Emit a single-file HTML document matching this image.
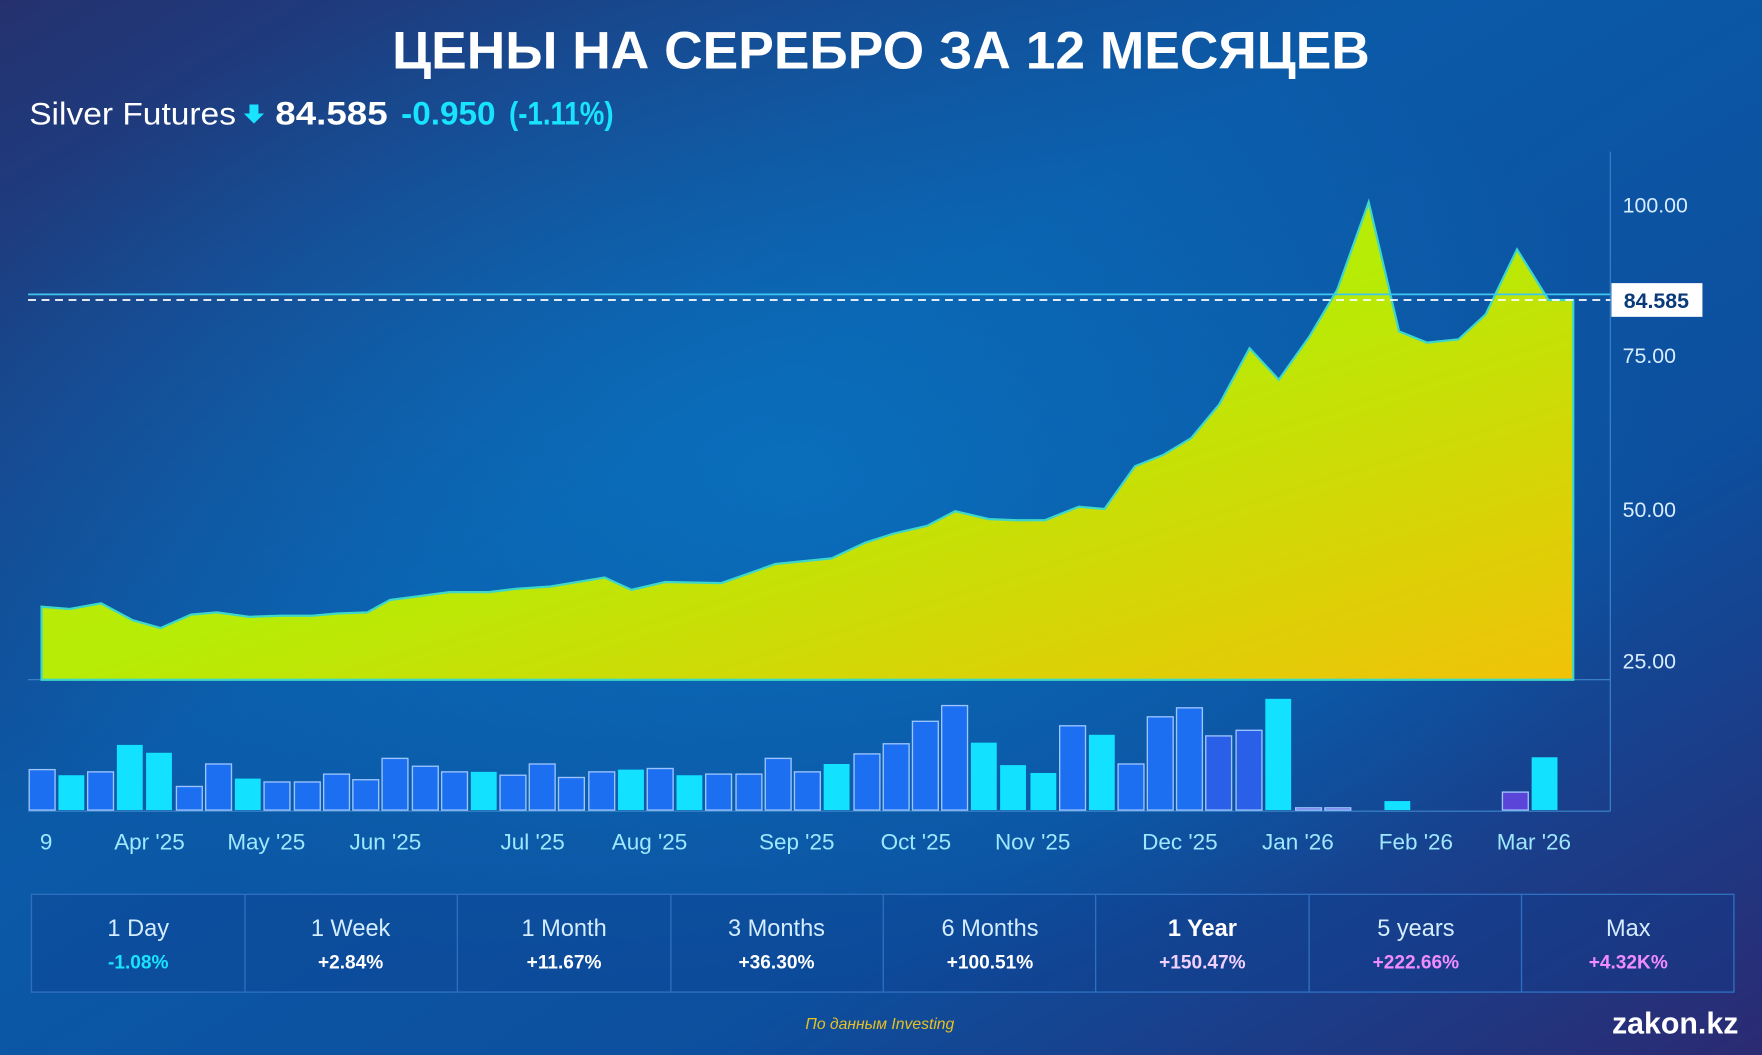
<!DOCTYPE html>
<html><head><meta charset="utf-8"><style>
html,body{margin:0;padding:0;width:1762px;height:1055px;overflow:hidden;background:#123e8a}
svg{display:block}
text{font-family:"Liberation Sans","DejaVu Sans",sans-serif}
</style></head><body>
<svg width="1762" height="1055" viewBox="0 0 1568 939" preserveAspectRatio="none">
<defs>
<linearGradient id="bg" x1="0" y1="0" x2="1" y2="1">
<stop offset="0" stop-color="#25316f"/><stop offset="0.4" stop-color="#0b5aa8"/><stop offset="0.7" stop-color="#0c4f9e"/><stop offset="1" stop-color="#2b2a72"/>
</linearGradient>
<radialGradient id="glow" cx="0.45" cy="0.45" r="0.5">
<stop offset="0" stop-color="#0a78c4" stop-opacity="0.7"/><stop offset="1" stop-color="#0a78c4" stop-opacity="0"/>
</radialGradient>
<linearGradient id="area" x1="0" y1="0" x2="1" y2="1">
<stop offset="0" stop-color="#c8ea10"/><stop offset="0.5" stop-color="#b6ec05"/><stop offset="1" stop-color="#f0c208"/>
</linearGradient>
</defs>
<rect width="1568" height="939" fill="url(#bg)"/>
<rect width="1568" height="939" fill="url(#glow)"/>

<text x="784" y="61" text-anchor="middle" fill="#fff" font-size="47" font-weight="bold" textLength="870" lengthAdjust="spacingAndGlyphs">ЦЕНЫ НА СЕРЕБРО ЗА 12 МЕСЯЦЕВ</text>
<text x="26" y="111" fill="#fff" font-size="28" textLength="184" lengthAdjust="spacingAndGlyphs">Silver Futures</text>
<polygon points="222,93 230,93 230,101 235,101 226,110 217,101 222,101" fill="#19e4ff"/>
<text x="245" y="111" fill="#fff" font-size="29" font-weight="bold" textLength="100" lengthAdjust="spacingAndGlyphs">84.585</text>
<text x="357" y="111" fill="#19e4ff" font-size="29" font-weight="bold" textLength="84" lengthAdjust="spacingAndGlyphs">-0.950</text>
<text x="453" y="111" fill="#19e4ff" font-size="29" font-weight="bold" textLength="93" lengthAdjust="spacingAndGlyphs">(-1.11%)</text>

<line x1="1433" y1="135" x2="1433" y2="722" stroke="#3d86c8" stroke-width="1"/>
<line x1="25" y1="605" x2="1433" y2="605" stroke="#3d86c8" stroke-width="1"/>
<line x1="25" y1="722" x2="1433" y2="722" stroke="#3d86c8" stroke-width="1"/>

<polygon fill="url(#area)" stroke="#3fd8c8" stroke-width="2" points="37,605 37,540 62,542 90,537 118,552 143,559 170,547 193,545 222,549 250,548 278,548 300,546 327,545 347,534 370,531 400,527 435,527 460,524 490,522 538,514 562,525 592,518 642,519 690,502 740,497 770,483 795,475 825,468 850,455 880,462 905,463 930,463 960,451 983,453 1010,415 1035,405 1060,390 1085,360 1112,310 1138,338 1165,300 1190,258 1218,180 1245,295 1270,305 1298,302 1322,280 1350,222 1378,267 1400,267 1400,605"/>

<line x1="25" y1="262" x2="1433" y2="262" stroke="#3fc6f0" stroke-width="1.5"/>
<line x1="25" y1="267" x2="1433" y2="267" stroke="#ffffff" stroke-width="1.5" stroke-dasharray="7,5"/>
<rect x="1434" y="252" width="81" height="30" fill="#fff"/>
<text x="1474" y="274" text-anchor="middle" fill="#0a3a7a" font-size="19" font-weight="bold">84.585</text>

<g fill="#d8ecff" font-size="19">
<text x="1444" y="189">100.00</text>
<text x="1444" y="323">75.00</text>
<text x="1444" y="460">50.00</text>
<text x="1444" y="595">25.00</text>
</g>

<g stroke="#9cc4ff" stroke-width="1.2">
<rect x="26" y="685" width="23" height="36" fill="#1b6ff0"/>
<rect x="52" y="690" width="23" height="31" fill="#12e2ff" stroke="none"/>
<rect x="78" y="687" width="23" height="34" fill="#1b6ff0"/>
<rect x="104" y="663" width="23" height="58" fill="#12e2ff" stroke="none"/>
<rect x="130" y="670" width="23" height="51" fill="#12e2ff" stroke="none"/>
<rect x="157" y="700" width="23" height="21" fill="#1b6ff0"/>
<rect x="183" y="680" width="23" height="41" fill="#1b6ff0"/>
<rect x="209" y="693" width="23" height="28" fill="#12e2ff" stroke="none"/>
<rect x="235" y="696" width="23" height="25" fill="#1b6ff0"/>
<rect x="262" y="696" width="23" height="25" fill="#1b6ff0"/>
<rect x="288" y="689" width="23" height="32" fill="#1b6ff0"/>
<rect x="314" y="694" width="23" height="27" fill="#1b6ff0"/>
<rect x="340" y="675" width="23" height="46" fill="#1b6ff0"/>
<rect x="367" y="682" width="23" height="39" fill="#1b6ff0"/>
<rect x="393" y="687" width="23" height="34" fill="#1b6ff0"/>
<rect x="419" y="687" width="23" height="34" fill="#12e2ff" stroke="none"/>
<rect x="445" y="690" width="23" height="31" fill="#1b6ff0"/>
<rect x="471" y="680" width="23" height="41" fill="#1b6ff0"/>
<rect x="497" y="692" width="23" height="29" fill="#1b6ff0"/>
<rect x="524" y="687" width="23" height="34" fill="#1b6ff0"/>
<rect x="550" y="685" width="23" height="36" fill="#12e2ff" stroke="none"/>
<rect x="576" y="684" width="23" height="37" fill="#1b6ff0"/>
<rect x="602" y="690" width="23" height="31" fill="#12e2ff" stroke="none"/>
<rect x="628" y="689" width="23" height="32" fill="#1b6ff0"/>
<rect x="655" y="689" width="23" height="32" fill="#1b6ff0"/>
<rect x="681" y="675" width="23" height="46" fill="#1b6ff0"/>
<rect x="707" y="687" width="23" height="34" fill="#1b6ff0"/>
<rect x="733" y="680" width="23" height="41" fill="#12e2ff" stroke="none"/>
<rect x="760" y="671" width="23" height="50" fill="#1b6ff0"/>
<rect x="786" y="662" width="23" height="59" fill="#1b6ff0"/>
<rect x="812" y="642" width="23" height="79" fill="#1b6ff0"/>
<rect x="838" y="628" width="23" height="93" fill="#1b6ff0"/>
<rect x="864" y="661" width="23" height="60" fill="#12e2ff" stroke="none"/>
<rect x="890" y="681" width="23" height="40" fill="#12e2ff" stroke="none"/>
<rect x="917" y="688" width="23" height="33" fill="#12e2ff" stroke="none"/>
<rect x="943" y="646" width="23" height="75" fill="#1b6ff0"/>
<rect x="969" y="654" width="23" height="67" fill="#12e2ff" stroke="none"/>
<rect x="995" y="680" width="23" height="41" fill="#1b6ff0"/>
<rect x="1021" y="638" width="23" height="83" fill="#1b6ff0"/>
<rect x="1047" y="630" width="23" height="91" fill="#1b6ff0"/>
<rect x="1073" y="655" width="23" height="66" fill="#2a5fe8"/>
<rect x="1100" y="650" width="23" height="71" fill="#2a5fe8"/>
<rect x="1126" y="622" width="23" height="99" fill="#12e2ff" stroke="none"/>
<rect x="1153" y="719" width="23" height="2" fill="#6a5de0"/>
<rect x="1179" y="719" width="23" height="2" fill="#6a5de0"/>
<rect x="1232" y="713" width="23" height="8" fill="#12e2ff" stroke="none"/>
<rect x="1337" y="705" width="23" height="16" fill="#5a45d8"/>
<rect x="1363" y="674" width="23" height="47" fill="#12e2ff" stroke="none"/>
</g>

<g fill="#9ee8ff" font-size="20" text-anchor="middle">
<text x="41" y="756">9</text>
<text x="133" y="756">Apr '25</text>
<text x="237" y="756">May '25</text>
<text x="343" y="756">Jun '25</text>
<text x="474" y="756">Jul '25</text>
<text x="578" y="756">Aug '25</text>
<text x="709" y="756">Sep '25</text>
<text x="815" y="756">Oct '25</text>
<text x="919" y="756">Nov '25</text>
<text x="1050" y="756">Dec '25</text>
<text x="1155" y="756">Jan '26</text>
<text x="1260" y="756">Feb '26</text>
<text x="1365" y="756">Mar '26</text>
</g>

<g stroke="#2f6fc0" stroke-width="1.2" fill="none">
<rect x="28" y="796" width="1515" height="87" fill="#0d3e8e" fill-opacity="0.35"/>
<line x1="218" y1="796" x2="218" y2="883"/><line x1="407" y1="796" x2="407" y2="883"/>
<line x1="597" y1="796" x2="597" y2="883"/><line x1="786" y1="796" x2="786" y2="883"/>
<line x1="975" y1="796" x2="975" y2="883"/><line x1="1165" y1="796" x2="1165" y2="883"/>
<line x1="1354" y1="796" x2="1354" y2="883"/>
</g>
<g font-size="21" text-anchor="middle" fill="#d4ecff">
<text x="123" y="833">1 Day</text><text x="312" y="833">1 Week</text><text x="502" y="833">1 Month</text>
<text x="691" y="833">3 Months</text><text x="881" y="833">6 Months</text>
<text x="1070" y="833" fill="#fff" font-weight="bold">1 Year</text>
<text x="1260" y="833">5 years</text><text x="1449" y="833">Max</text>
</g>
<g font-size="17" text-anchor="middle" font-weight="bold">
<text x="123" y="862" fill="#19e4ff">-1.08%</text><text x="312" y="862" fill="#fff">+2.84%</text>
<text x="502" y="862" fill="#fff">+11.67%</text><text x="691" y="862" fill="#fff">+36.30%</text>
<text x="881" y="862" fill="#fff">+100.51%</text><text x="1070" y="862" fill="#f0d0ff">+150.47%</text>
<text x="1260" y="862" fill="#f08cff">+222.66%</text><text x="1449" y="862" fill="#f08cff">+4.32K%</text>
</g>
<text x="783" y="916" text-anchor="middle" fill="#e8c020" font-size="14" font-style="italic">По данным Investing</text>
<text x="1547" y="920" text-anchor="end" fill="#fff" font-size="27" font-weight="bold">zakon.kz</text>
</svg>
</body></html>
